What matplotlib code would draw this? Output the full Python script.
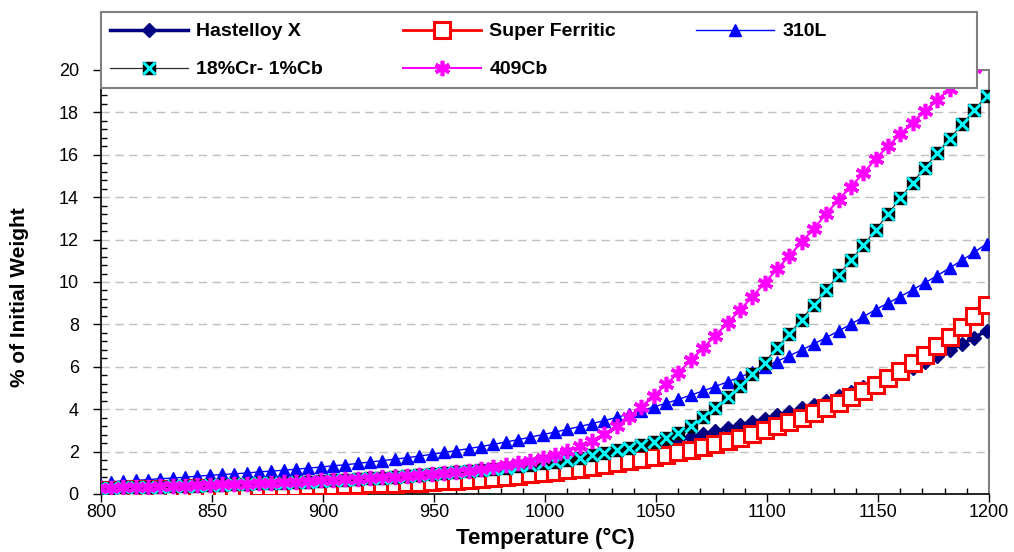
import numpy as np
import matplotlib
matplotlib.use('Agg')
import matplotlib.pyplot as plt
from matplotlib.patches import Rectangle
from matplotlib.ticker import MultipleLocator

plt.rcParams['font.family'] = ['Liberation Sans', 'DejaVu Sans']

# test temperatures were taken every 10 F, plotted in C
temp_f = np.arange(1470, 2200, 10)
temp_c = (temp_f - 32) * 5 / 9

hastelloy_x = [0.30, 0.31, 0.33, 0.34, 0.36, 0.37, 0.39, 0.40, 0.42, 0.44,
               0.46, 0.47, 0.49, 0.51, 0.53, 0.55, 0.57, 0.60, 0.62,
               0.65, 0.68, 0.72, 0.75, 0.79, 0.83, 0.87, 0.91, 0.95,
               1.00, 1.04, 1.09, 1.15, 1.20, 1.26, 1.32, 1.38, 1.45,
               1.53, 1.61, 1.70, 1.80, 1.90, 2.00, 2.11, 2.23, 2.35,
               2.46, 2.58, 2.70, 2.82, 2.96, 3.09, 3.24, 3.39, 3.55,
               3.71, 3.87, 4.04, 4.22, 4.41, 4.61, 4.81, 5.03, 5.25,
               5.48, 5.72, 5.96, 6.22, 6.49, 6.78, 7.07, 7.38, 7.70]

super_ferritic = [0.20, 0.21, 0.21, 0.22, 0.23, 0.24, 0.24, 0.25, 0.26, 0.27,
                  0.28, 0.29, 0.30, 0.31, 0.33, 0.34, 0.35, 0.37, 0.38,
                  0.40, 0.41, 0.43, 0.45, 0.47, 0.49, 0.51, 0.54, 0.56,
                  0.60, 0.63, 0.68, 0.72, 0.76, 0.81, 0.87, 0.92, 0.98,
                  1.05, 1.11, 1.19, 1.27, 1.35, 1.44, 1.54, 1.64, 1.75,
                  1.86, 1.97, 2.09, 2.22, 2.36, 2.51, 2.66, 2.83, 3.00,
                  3.19, 3.38, 3.59, 3.81, 4.05, 4.30, 4.56, 4.85, 5.15,
                  5.47, 5.82, 6.18, 6.57, 6.98, 7.42, 7.88, 8.38, 8.90]

ss_310l = [0.55, 0.58, 0.61, 0.64, 0.68, 0.72, 0.75, 0.79, 0.84, 0.88,
           0.92, 0.95, 0.99, 1.04, 1.08, 1.12, 1.17, 1.22, 1.27,
           1.33, 1.38, 1.44, 1.51, 1.57, 1.64, 1.71, 1.79, 1.87,
           1.96, 2.05, 2.14, 2.24, 2.34, 2.45, 2.56, 2.68, 2.80,
           2.92, 3.05, 3.18, 3.32, 3.46, 3.61, 3.77, 3.93, 4.10,
           4.28, 4.46, 4.66, 4.86, 5.07, 5.29, 5.51, 5.75, 6.00,
           6.25, 6.52, 6.79, 7.08, 7.38, 7.69, 8.01, 8.35, 8.70,
           9.00, 9.31, 9.63, 9.96, 10.30, 10.66, 11.02, 11.40, 11.80]

cr18_cb1 = [0.28, 0.29, 0.31, 0.32, 0.34, 0.35, 0.37, 0.38, 0.40, 0.42,
            0.44, 0.46, 0.48, 0.50, 0.52, 0.54, 0.56, 0.58, 0.61,
            0.64, 0.67, 0.70, 0.74, 0.77, 0.81, 0.85, 0.89, 0.93,
            0.98, 1.03, 1.08, 1.13, 1.19, 1.25, 1.31, 1.38, 1.45,
            1.53, 1.62, 1.72, 1.83, 1.95, 2.07, 2.19, 2.31, 2.45,
            2.65, 2.90, 3.22, 3.62, 4.08, 4.57, 5.10, 5.65, 6.20,
            6.88, 7.55, 8.23, 8.93, 9.62, 10.32, 11.02, 11.73, 12.45,
            13.20, 13.95, 14.68, 15.40, 16.08, 16.75, 17.43, 18.10, 18.78]

ss_409cb = [0.29, 0.30, 0.32, 0.33, 0.35, 0.36, 0.38, 0.39, 0.41, 0.43,
            0.45, 0.47, 0.49, 0.51, 0.53, 0.56, 0.58, 0.61, 0.64,
            0.67, 0.70, 0.73, 0.76, 0.79, 0.82, 0.86, 0.90, 0.94,
            0.99, 1.04, 1.10, 1.17, 1.26, 1.36, 1.46, 1.58, 1.71,
            1.85, 2.03, 2.25, 2.50, 2.82, 3.20, 3.65, 4.12, 4.62,
            5.17, 5.72, 6.30, 6.88, 7.47, 8.07, 8.67, 9.30, 9.95,
            10.60, 11.22, 11.88, 12.52, 13.22, 13.88, 14.50, 15.12, 15.80,
            16.40, 16.98, 17.52, 18.07, 18.60, 19.10, 19.60, 20.10, 20.60]

x_ticks = np.arange(800, 1201, 50)
y_ticks = np.arange(0, 21, 2)

fig = plt.figure(figsize=(10.14, 5.52), dpi=100)
ax = fig.add_axes([101 / 1014, 58 / 552, 888 / 1014, 424 / 552])

h_hast, = ax.plot(temp_c, hastelloy_x, color='#000080', lw=2.5, marker='D',
                  ms=7.5, mfc='#000080', mec='#000080', zorder=3)
h_sf, = ax.plot(temp_c, super_ferritic, color='#FF0000', lw=2, marker='s',
                ms=11, mfc='white', mec='#FF0000', mew=2.2, zorder=4)
h_310, = ax.plot(temp_c, ss_310l, color='#0000FF', lw=1, marker='^',
                 ms=9, mfc='#0000FF', mec='#0000FF', zorder=3)
h_cr_sq, = ax.plot(temp_c, cr18_cb1, color='#303030', lw=0.9, marker='s',
                   ms=8.5, mfc='black', mec='black', zorder=5)
h_cr_x, = ax.plot(temp_c, cr18_cb1, ls='none', marker='x', ms=8.5,
                  mec='#00FFFF', mew=2.2, zorder=6)
h_409, = ax.plot(temp_c, ss_409cb, color='#FF00FF', lw=1.5, marker=(6, 2, 0),
                 ms=11, mec='#FF00FF', mew=2.6, zorder=7)

ax.set_xlim(800, 1200)
ax.set_ylim(0, 20)
ax.set_xticks(x_ticks)
ax.set_yticks(y_ticks)
ax.xaxis.set_minor_locator(MultipleLocator(10))
ax.yaxis.set_minor_locator(MultipleLocator(0.4))
ax.tick_params(which='major', direction='out', length=6, width=1,
               labelsize=13, pad=1)
ax.tick_params(which='minor', direction='in', length=4, width=1)
ax.tick_params(axis='y', which='major', pad=10)

ax.yaxis.grid(True, which='major', ls=(0, (6, 4)), color='#C0C0C0', lw=1)
ax.set_axisbelow(True)

for side in ['top', 'right']:
    ax.spines[side].set_color('#808080')
    ax.spines[side].set_linewidth(1.5)
for side in ['left', 'bottom']:
    ax.spines[side].set_color('black')
    ax.spines[side].set_linewidth(1.2)

fig.text(545 / 1014, 1 - 538 / 552, 'Temperature (°C)', ha='center',
         va='center', fontsize=16, fontweight='bold')
fig.text(20 / 1014, 1 - 297 / 552, '% of Initial Weight', ha='center',
         va='center', rotation=90, fontsize=15, fontweight='bold')

# legend box sits over the top of the plot area
fig.add_artist(Rectangle((101 / 1014, 1 - 88 / 552), 876 / 1014, 76 / 552,
                         transform=fig.transFigure, facecolor='white',
                         edgecolor='#808080', lw=1.5, zorder=4))

handles = [h_hast, (h_cr_sq, h_cr_x), h_sf, h_409, h_310]
labels = ['Hastelloy X', '18%Cr- 1%Cb', 'Super Ferritic', '409Cb', '310L']
leg = fig.legend(handles, labels, loc='upper left',
                 bbox_to_anchor=(104 / 1014, 1 - 17 / 552), ncol=3,
                 frameon=False, prop={'size': 14, 'weight': 'bold'},
                 handlelength=4.0, handletextpad=0.45, columnspacing=4.1,
                 labelspacing=1.05, borderpad=0.3, borderaxespad=0)
leg.set_zorder(5)

fig.savefig('out.png', dpi=100)
